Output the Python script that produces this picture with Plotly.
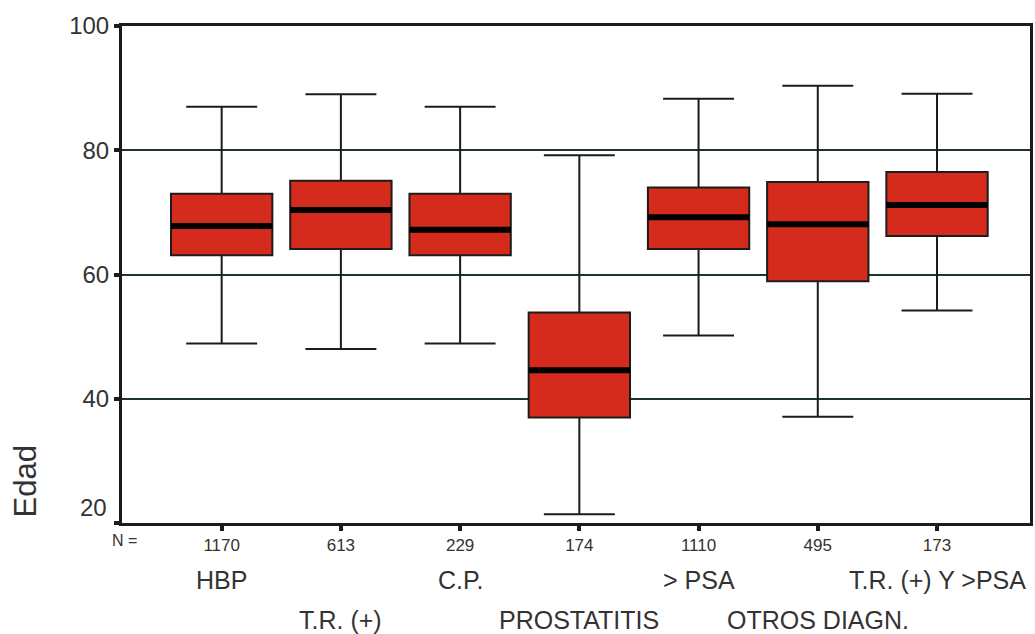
import plotly.graph_objects as go

# Age (Edad) distribution per diagnostic group
groups = ["HBP", "T.R. (+)", "C.P.", "PROSTATITIS", "> PSA", "OTROS DIAGN.", "T.R. (+) Y >PSA"]
n_counts = ["1170", "613", "229", "174", "1110", "495", "173"]
upper_whisker = [87, 89, 87, 79.2, 88.3, 90.4, 89.1]
q3 = [73, 75.1, 73, 53.9, 74, 74.9, 76.5]
median = [67.8, 70.4, 67.2, 44.6, 69.2, 68.1, 71.2]
q1 = [63.1, 64.1, 63.1, 37, 64.1, 58.9, 66.2]
lower_whisker = [48.9, 48, 48.9, 21.4, 50.2, 37.1, 54.2]
y_ticks = [20, 40, 60, 80, 100]

positions = list(range(len(groups)))
box_width = 0.85
ink = "#1c1c1c"
grid = "#1d3528"
text_col = "#333333"

fig = go.Figure()
fig.add_trace(go.Box(
    x=positions,
    q1=q1, median=median, q3=q3,
    lowerfence=lower_whisker, upperfence=upper_whisker,
    width=box_width,
    whiskerwidth=0.7,
    fillcolor="#d42b1d",
    line=dict(color=ink, width=2),
    boxpoints=False,
    hoverinfo="skip",
    showlegend=False,
))

# thick black median bars
for p, m in zip(positions, median):
    fig.add_shape(type="line", xref="x", yref="y",
                  x0=p - box_width / 2, x1=p + box_width / 2, y0=m, y1=m,
                  line=dict(color="#000000", width=6))

# group names in two staggered rows below the counts
for i, (p, g) in enumerate(zip(positions, groups)):
    fig.add_annotation(x=p, xref="x", y=-0.115 if i % 2 == 0 else -0.196, yref="paper",
                       text=g, showarrow=False, yanchor="middle", xanchor="center",
                       font=dict(size=25, color=text_col))

fig.add_annotation(x=0.003, xref="paper", y=-0.036, yref="paper", text="N =",
                   showarrow=False, xanchor="center", yanchor="middle",
                   font=dict(size=16, color=text_col))
fig.add_annotation(x=-0.106, xref="paper", y=0.083, yref="paper", text="Edad",
                   textangle=-90, showarrow=False, xanchor="center", yanchor="middle",
                   font=dict(size=31, color=text_col))

# lowest y label sits a little above its tick, clear of the corner
y_labels = ["" if v == y_ticks[0] else str(v) for v in y_ticks]
fig.add_annotation(x=0, xref="paper", y=y_ticks[0], yref="y", text=str(y_ticks[0]),
                   showarrow=False, xanchor="right", yanchor="middle",
                   xshift=-13, yshift=16, font=dict(size=24, color=text_col))

fig.update_layout(
    width=1035, height=634,
    margin=dict(l=122, r=2, t=26, b=111),
    paper_bgcolor="white", plot_bgcolor="white",
    font=dict(family="Liberation Sans, Arial, sans-serif", color=text_col),
)
fig.update_xaxes(
    range=[-0.836, 6.78],
    tickvals=positions, ticktext=n_counts,
    tickfont=dict(size=17),
    ticks="outside", ticklen=5, tickwidth=4, tickcolor=ink,
    showgrid=False, zeroline=False,
    showline=True, linecolor=ink, linewidth=3, mirror=True,
)
fig.update_yaxes(
    range=[20, 100],
    tickvals=y_ticks, ticktext=y_labels,
    tickfont=dict(size=24),
    ticks="outside", ticklen=5, tickwidth=4, tickcolor=ink,
    showgrid=True, gridcolor=grid, gridwidth=2,
    zeroline=False,
    showline=True, linecolor=ink, linewidth=3, mirror=True,
)

fig.write_html("out.html")
